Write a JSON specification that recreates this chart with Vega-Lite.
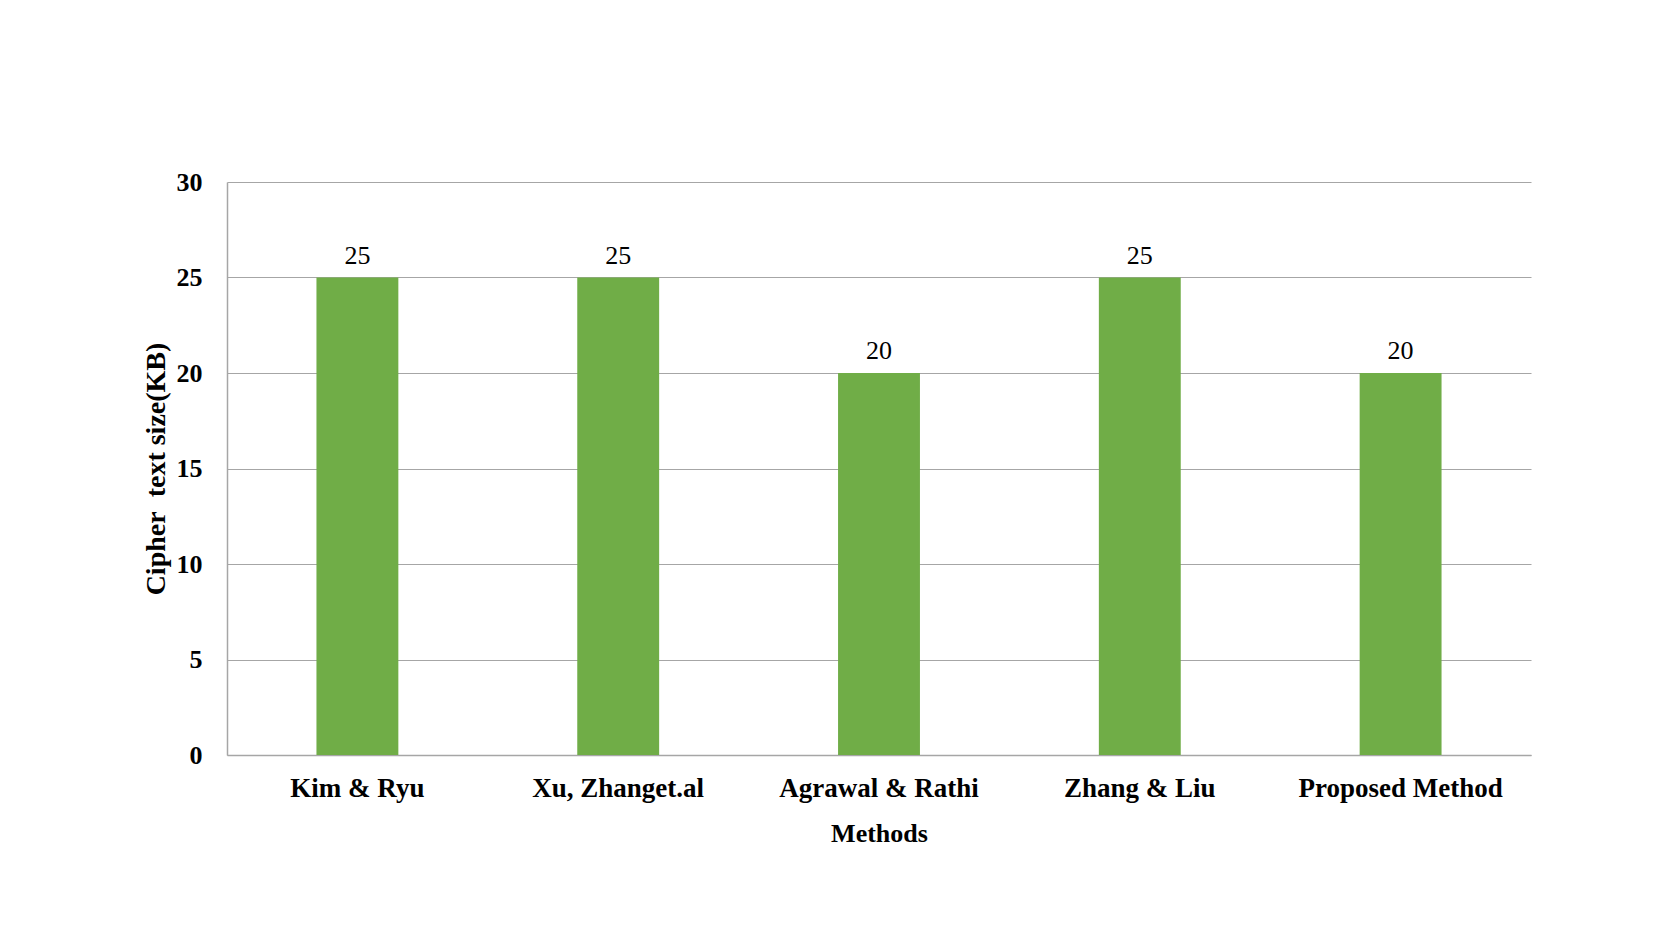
{
  "$schema": "https://vega.github.io/schema/vega-lite/v6.json",
  "width": 1304,
  "height": 573,
  "autosize": {"type": "none"},
  "padding": {"left": 227, "top": 182, "right": 130, "bottom": 179},
  "background": "white",
  "config": {"view": {"stroke": null}, "font": "Liberation Serif"},
  "data": {
    "values": [
      {"method": "Kim & Ryu", "size": 25},
      {"method": "Xu, Zhanget.al", "size": 25},
      {"method": "Agrawal & Rathi", "size": 20},
      {"method": "Zhang & Liu", "size": 25},
      {"method": "Proposed Method", "size": 20}
    ]
  },
  "encoding": {
    "x": {
      "field": "method",
      "type": "nominal",
      "sort": null,
      "scale": {"paddingInner": 0.686, "paddingOuter": 0.343},
      "axis": {
        "title": "Methods",
        "labelAngle": 0,
        "labelLimit": 0,
        "labelFont": "Liberation Serif",
        "labelFontSize": 27,
        "labelFontWeight": "bold",
        "labelColor": "black",
        "labelPadding": 20,
        "ticks": false,
        "tickSize": 0,
        "domainColor": "#A6A6A6",
        "domainWidth": 1.5,
        "titleFont": "Liberation Serif",
        "titleFontSize": 26,
        "titleFontWeight": "bold",
        "titleColor": "black",
        "titlePadding": 19
      }
    },
    "y": {
      "field": "size",
      "type": "quantitative",
      "scale": {"domain": [0, 30]},
      "axis": {
        "title": "Cipher\u00a0 text size(KB)",
        "values": [0, 5, 10, 15, 20, 25, 30],
        "labelFont": "Liberation Serif",
        "labelFontSize": 26,
        "labelFontWeight": "bold",
        "labelColor": "black",
        "labelPadding": 25,
        "ticks": false,
        "tickSize": 0,
        "domainColor": "#A6A6A6",
        "domainWidth": 1.5,
        "gridColor": "#A6A6A6",
        "gridWidth": 1.2,
        "titleFont": "Liberation Serif",
        "titleFontSize": 28,
        "titleFontWeight": "bold",
        "titleColor": "black",
        "titlePadding": 6
      }
    }
  },
  "layer": [
    {"mark": {"type": "bar", "color": "#70AD47"}},
    {
      "mark": {
        "type": "text",
        "baseline": "alphabetic",
        "dy": -14,
        "font": "Liberation Serif",
        "fontSize": 26,
        "color": "black"
      },
      "encoding": {"text": {"field": "size", "type": "quantitative"}}
    }
  ]
}
